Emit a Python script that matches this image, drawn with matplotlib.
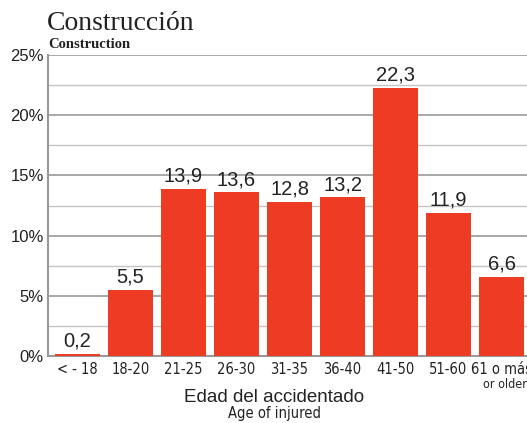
import numpy as np
import matplotlib.pyplot as plt
from matplotlib.ticker import MultipleLocator

# data
categories = ['< - 18', '18-20', '21-25', '26-30', '31-35', '36-40', '41-50', '51-60', '61 o más']
values = [0.2, 5.5, 13.9, 13.6, 12.8, 13.2, 22.3, 11.9, 6.6]
yticks = [0, 5, 10, 15, 20, 25]

bar_color = '#ee3b24'
sans = ['Liberation Sans', 'DejaVu Sans']

fig = plt.figure(figsize=(5.27, 4.23), dpi=100)
ax = fig.add_axes([0.091, 0.158, 0.909, 0.712])

x = np.arange(len(categories))
ax.bar(x, values, width=0.85, color=bar_color, zorder=3)

for xi, v in zip(x, values):
    ax.text(xi, v + 0.25, f'{v:.1f}'.replace('.', ','), ha='center', va='bottom',
            fontsize=14.5, family=sans, color='#222222', zorder=4)

ax.set_xlim(-0.557, 8.48)
ax.set_ylim(0, 25)
ax.set_yticks(yticks)
ax.set_yticklabels([f'{t}%' for t in yticks], family=sans, fontsize=12, color='#222222')
ax.yaxis.set_minor_locator(MultipleLocator(2.5))
ax.grid(axis='y', which='major', color='#999999', lw=1.2, zorder=0)
ax.grid(axis='y', which='minor', color='#c4c4c4', lw=1.0, zorder=0)
ax.tick_params(axis='y', which='both', length=0, pad=3)

ax.set_xticks(x)
ax.set_xticklabels(categories, family='DejaVu Sans', stretch='condensed', fontsize=10.5, color='#222222')
ax.tick_params(axis='x', length=0, pad=4)
ax.text(8.48, -2.35, 'or older', ha='right', va='center', family='DejaVu Sans',
        stretch='condensed', fontsize=9, color='#222222', clip_on=False)

for s in ['top', 'right']:
    ax.spines[s].set_visible(False)
for s in ['left', 'bottom']:
    ax.spines[s].set_color('#999999')
    ax.spines[s].set_linewidth(1.5)

fig.text(0.52, 0.061, 'Edad del accidentado', ha='center', va='center',
         family=sans, fontsize=13.5, color='#222222')
fig.text(0.52, 0.022, 'Age of injured', ha='center', va='center',
         family='DejaVu Sans', stretch='condensed', fontsize=10.5, color='#222222')

fig.text(0.089, 0.945, 'Construcción', ha='left', va='center',
         family=['Liberation Serif', 'DejaVu Serif'], fontsize=20, color='#222222')
fig.text(0.091, 0.895, 'Construction', ha='left', va='center',
         family=['Liberation Serif', 'DejaVu Serif'], fontsize=10.5, fontweight='bold', color='#222222')

fig.savefig('out.png', dpi=100)
